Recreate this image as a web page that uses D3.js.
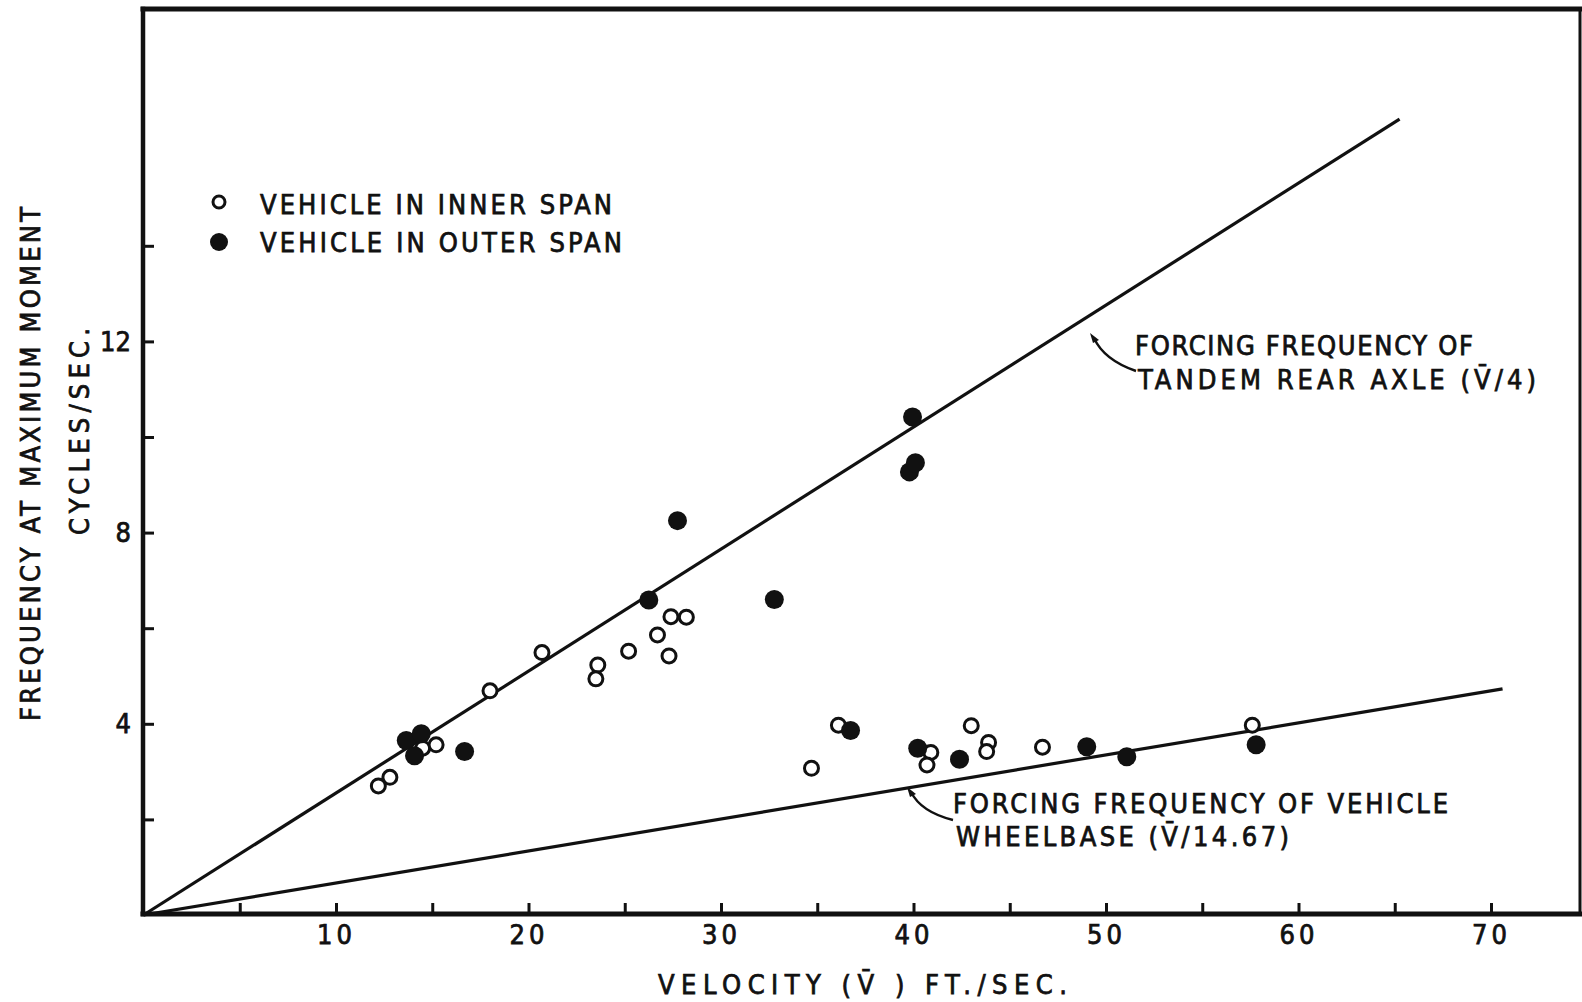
<!DOCTYPE html>
<html>
<head>
<meta charset="utf-8">
<script src="https://cdn.jsdelivr.net/npm/d3@7"></script>
<style>
  body { margin: 0; background: #fff; }
  svg { display: block; }
  text { font-family: "DejaVu Sans Condensed", "DejaVu Sans", sans-serif; fill: #111; stroke: #111; stroke-width: 0.75; }
</style>
</head>
<body>
<div id="chart"></div>
<script>
// velocity (ft/sec) vs frequency at maximum moment (cycles/sec)
var innerVelocity = [12.2, 12.8, 14.5, 15.2, 18.0, 20.7, 23.6, 23.5, 25.2, 26.7, 27.3, 27.4, 28.2, 34.7, 36.1, 40.9, 40.7, 43.0, 43.9, 43.8, 46.7, 57.6];
var innerFreq = [2.70, 2.88, 3.49, 3.56, 4.69, 5.49, 5.23, 4.94, 5.52, 5.86, 5.42, 6.24, 6.23, 3.07, 3.97, 3.40, 3.14, 3.96, 3.61, 3.42, 3.51, 3.97];
var outerVelocity = [13.65, 14.43, 14.08, 16.68, 26.25, 27.74, 32.77, 39.95, 39.79, 40.10, 36.73, 40.22, 42.39, 49.0, 51.08, 57.8];
var outerFreq = [3.65, 3.79, 3.33, 3.42, 6.59, 8.25, 6.60, 10.42, 9.27, 9.46, 3.86, 3.49, 3.26, 3.52, 3.31, 3.56];

// forcing frequency lines, end points as drawn
var tandemLine = [[0, 0], [65.25, 16.65]];
var wheelbaseLine = [[0, 0], [70.6, 4.73]];

var xTicks = [5, 10, 15, 20, 25, 30, 35, 40, 45, 50, 55, 60, 65, 70];
var xLabels = [10, 20, 30, 40, 50, 60, 70];
var yTicks = [2, 4, 6, 8, 10, 12, 14];
var yLabels = [4, 8, 12];

var legendItems = ["VEHICLE IN INNER SPAN", "VEHICLE IN OUTER SPAN"];

var Frequency_Chart = function(opt) {
  this.element = opt.element;
  this.width = 1582;
  this.height = 1002;
  this.left = 143;
  this.top = 9;
  this.right = 1580;
  this.bottom = 914;
  this.draw();
}

Frequency_Chart.prototype.draw = function() {
  this.svg = d3.select(this.element).append('svg')
    .attr('width', this.width)
    .attr('height', this.height);

  this.generateScales();
  this.addFrame();
  this.addAxis();
  this.addLines();
  this.addPoints();
  this.addLegend();
  this.addLabels();
};

Frequency_Chart.prototype.generateScales = function() {
  this.xScale = d3.scaleLinear()
    .domain([10, 70])
    .range([336, 1491]);
  this.yScale = d3.scaleLinear()
    .domain([0, 14])
    .range([this.bottom + 1, this.bottom + 1 - 14 * 47.8]);
}

Frequency_Chart.prototype.addFrame = function() {
  var g = this.svg.append('g').attr('class', 'frame')
    .attr('stroke', '#111').attr('fill', 'none').attr('stroke-linecap', 'square');
  g.append('line').attr('x1', this.left).attr('y1', this.top).attr('x2', this.width).attr('y2', this.top)
    .attr('stroke-width', 5);
  g.append('line').attr('x1', this.left).attr('y1', this.top).attr('x2', this.left).attr('y2', this.bottom)
    .attr('stroke-width', 4.5);
  g.append('line').attr('x1', this.left).attr('y1', this.bottom).attr('x2', this.right).attr('y2', this.bottom)
    .attr('stroke-width', 5);
  g.append('line').attr('x1', this.right).attr('y1', this.top).attr('x2', this.right).attr('y2', this.bottom)
    .attr('stroke-width', 3);
}

Frequency_Chart.prototype.addAxis = function() {
  var xAxis = d3.axisBottom(this.xScale)
    .tickValues(xTicks)
    .tickSizeInner(-11)
    .tickSizeOuter(0)
    .tickPadding(11)
    .tickFormat(function(d) { return xLabels.indexOf(d) >= 0 ? d : ""; });

  var yAxis = d3.axisLeft(this.yScale)
    .tickValues(yTicks)
    .tickSizeInner(-11)
    .tickSizeOuter(0)
    .tickPadding(12)
    .tickFormat(function(d) { return yLabels.indexOf(d) >= 0 ? d : ""; });

  var gx = this.svg.append('g')
    .attr('class', 'x-axis')
    .attr('transform', 'translate(0,' + this.bottom + ')')
    .call(xAxis);
  var gy = this.svg.append('g')
    .attr('class', 'y-axis')
    .attr('transform', 'translate(' + this.left + ',0)')
    .call(yAxis);

  [gx, gy].forEach(function(g) {
    g.select('.domain').remove();
    g.selectAll('.tick line').attr('stroke', '#111').attr('stroke-width', 3);
    g.selectAll('.tick text')
      .attr('font-family', null)
      .attr('font-size', 27)
      .attr('fill', '#111');
  });
  gx.selectAll('.tick text').attr('letter-spacing', 4);
}

Frequency_Chart.prototype.addLines = function() {
  var that = this;
  var line = d3.line()
    .x(function(d) { return that.xScale(d[0]) })
    .y(function(d) { return that.yScale(d[1]) });

  this.svg.selectAll('path.forcing')
    .data([tandemLine, wheelbaseLine])
    .enter().append('path')
    .attr('class', 'forcing')
    .attr('d', line)
    .attr('fill', 'none')
    .attr('stroke', '#111')
    .attr('stroke-width', 3.2);
}

Frequency_Chart.prototype.addPoints = function() {
  var that = this;
  var inner = innerVelocity.map(function(v, i) { return { v: v, f: innerFreq[i] } });
  var outer = outerVelocity.map(function(v, i) { return { v: v, f: outerFreq[i] } });

  this.svg.selectAll('circle.inner')
    .data(inner)
    .enter().append('circle')
    .attr('class', 'inner')
    .attr('cx', function(d) { return that.xScale(d.v) })
    .attr('cy', function(d) { return that.yScale(d.f) })
    .attr('r', 7)
    .attr('fill', '#fff')
    .attr('stroke', '#111')
    .attr('stroke-width', 3);

  this.svg.selectAll('circle.outer')
    .data(outer)
    .enter().append('circle')
    .attr('class', 'outer')
    .attr('cx', function(d) { return that.xScale(d.v) })
    .attr('cy', function(d) { return that.yScale(d.f) })
    .attr('r', 9.5)
    .attr('fill', '#111');
}

Frequency_Chart.prototype.addLegend = function() {
  var g = this.svg.append('g').attr('class', 'legend');
  g.append('circle').attr('cx', 219).attr('cy', 202).attr('r', 6)
    .attr('fill', '#fff').attr('stroke', '#111').attr('stroke-width', 3);
  g.append('circle').attr('cx', 219).attr('cy', 242).attr('r', 9)
    .attr('fill', '#111');
  this.addText(g, legendItems[0], 260, 214, 352);
  this.addText(g, legendItems[1], 260, 252, 362);
}

Frequency_Chart.prototype.addText = function(g, str, x, y, len, rotate) {
  return g.append('text')
    .attr('transform', 'translate(' + x + ',' + y + ')' + (rotate ? ' rotate(-90)' : ''))
    .attr('font-size', 27)
    .attr('textLength', len)
    .attr('lengthAdjust', 'spacing')
    .text(str);
}

Frequency_Chart.prototype.addLabels = function() {
  var g = this.svg.append('g').attr('class', 'labels');

  // axis titles
  this.addText(g, "VELOCITY  (V\u0304 )  FT./SEC.", 658, 994, 409);
  this.addText(g, "FREQUENCY AT MAXIMUM MOMENT", 40, 721, 514, true);
  this.addText(g, "CYCLES/SEC.", 89, 535, 207, true);

  // curve notes
  this.addText(g, "FORCING FREQUENCY OF", 1135, 355, 338);
  this.addText(g, "TANDEM REAR AXLE  (V\u0304/4)", 1138, 389, 398);
  this.addText(g, "FORCING FREQUENCY OF  VEHICLE", 953, 813, 495);
  this.addText(g, "WHEELBASE  (V\u0304/14.67)", 956, 846, 333);

  // leaders
  var leader = g.append('g').attr('fill', 'none').attr('stroke', '#111').attr('stroke-width', 2.4);
  leader.append('path').attr('d', 'M1094,338 Q1104,360 1136,371');
  leader.append('path').attr('d', 'M911,792 Q921,812 953,820');
  g.append('path').attr('d', 'M1090,333 L1099,340 L1093,343 Z').attr('fill', '#111');
  g.append('path').attr('d', 'M907,787 L916,794 L910,797 Z').attr('fill', '#111');
}

var chart = new Frequency_Chart({ element: '#chart' });
</script>
</body>
</html>
